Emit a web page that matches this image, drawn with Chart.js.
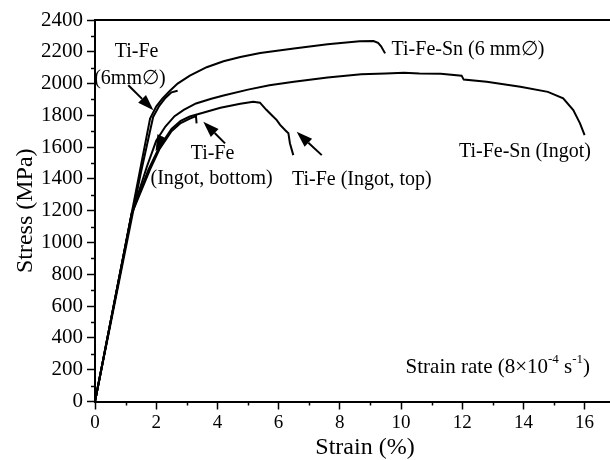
<!DOCTYPE html>
<html>
<head>
<meta charset="utf-8">
<script src="https://cdn.jsdelivr.net/npm/chart.js@4.4.0/dist/chart.umd.min.js"></script>
<style>
  html, body { margin: 0; padding: 0; background: #fff; }
</style>
</head>
<body>
<canvas id="grafico" width="610" height="460"></canvas>
<script>
// tick labels
const xTicks = [0, 2, 4, 6, 8, 10, 12, 14, 16];
const yTicks = [0, 200, 400, 600, 800, 1000, 1200, 1400, 1600, 1800, 2000, 2200, 2400];

// Ti-Fe-Sn (6 mm)
const tiFeSn6Strain = [0, 1.8, 2.0, 2.2, 2.45, 2.7, 3.1, 3.65, 4.2, 4.75, 5.4, 6.5, 7.6, 8.65, 9.1, 9.25, 9.35, 9.48];
const tiFeSn6Stress = [0, 1780, 1855, 1905, 1955, 2000, 2050, 2103, 2140, 2167, 2192, 2221, 2247, 2266, 2268, 2256, 2235, 2190];

// Ti-Fe (6 mm)
const tiFe6Strain = [0, 1.5, 1.9, 2.1, 2.3, 2.5, 2.7];
const tiFe6Stress = [0, 1440, 1790, 1860, 1910, 1945, 1955];

// Ti-Fe-Sn (Ingot)
const tiFeSnIngotStrain = [0, 1.2, 1.45, 1.7, 2.0, 2.3, 2.6, 2.9, 3.3, 3.8, 4.2, 5.0, 5.7, 6.5, 7.6, 8.7, 9.5, 10.1, 10.6, 11.3, 11.98, 12.05, 12.8, 13.9, 14.8, 15.3, 15.63, 15.85, 16.0];
const tiFeSnIngotStress = [0, 1185, 1330, 1480, 1640, 1730, 1795, 1835, 1875, 1905, 1925, 1962, 1990, 2011, 2039, 2058, 2064, 2068, 2063, 2062, 2050, 2025, 2012, 1980, 1948, 1907, 1833, 1750, 1676];

// Ti-Fe (Ingot, top)
const tiFeTopStrain = [0, 1.2, 1.45, 1.75, 2.1, 2.5, 2.8, 3.1, 3.5, 4.1, 4.75, 5.17, 5.39, 5.6, 5.77, 5.94, 6.05, 6.21, 6.32, 6.37, 6.48];
const tiFeTopStress = [0, 1180, 1310, 1460, 1600, 1715, 1765, 1793, 1815, 1848, 1873, 1886, 1880, 1835, 1802, 1770, 1740, 1708, 1688, 1625, 1550];

// Ti-Fe (Ingot, bottom)
const tiFeBottomStrain = [0, 1.2, 1.5, 1.8, 2.1, 2.5, 2.8, 3.1, 3.3, 3.32];
const tiFeBottomStress = [0, 1180, 1320, 1460, 1585, 1700, 1752, 1780, 1795, 1750];

const SERIF = '"Liberation Serif", "Times New Roman", serif';

function pontos(xs, ys) {
  return xs.map((x, i) => ({ x: x, y: ys[i] }));
}

function curva(label, xs, ys) {
  return {
    label: label,
    data: pontos(xs, ys),
    borderColor: "#000",
    borderWidth: 2,
    pointRadius: 0,
    fill: false,
    tension: 0
  };
}

// texts and arrows, in data units
const rotulos = [
  { t: "Ti-Fe", x: 1.36, y: 2200 },
  { t: "(6mm\u2205)", x: 1.14, y: 2033 },
  { t: "Ti-Fe-Sn (6 mm\u2205)", x: 12.19, y: 2211 },
  { t: "Ti-Fe", x: 3.84, y: 1557 },
  { t: "(Ingot, bottom)", x: 3.81, y: 1400 },
  { t: "Ti-Fe (Ingot, top)", x: 8.72, y: 1393 },
  { t: "Ti-Fe-Sn (Ingot)", x: 14.05, y: 1569 }
];

const setas = [
  { x1: 1.09, y1: 1990, x2: 1.91, y2: 1833 },
  { x1: 4.25, y1: 1624, x2: 3.54, y2: 1760 },
  { x1: 7.41, y1: 1550, x2: 6.59, y2: 1697 },
  { x1: 2.2, y1: 1665, x2: 1.98, y2: 1575 }
];

function desenhaSeta(ctx, x1, y1, x2, y2) {
  const ang = Math.atan2(y2 - y1, x2 - x1);
  const len = 16, half = 5.5;
  const bx = x2 - len * Math.cos(ang), by = y2 - len * Math.sin(ang);
  ctx.beginPath();
  ctx.moveTo(x1, y1);
  ctx.lineTo(bx, by);
  ctx.stroke();
  ctx.beginPath();
  ctx.moveTo(x2, y2);
  ctx.lineTo(bx + half * Math.sin(ang), by - half * Math.cos(ang));
  ctx.lineTo(bx - half * Math.sin(ang), by + half * Math.cos(ang));
  ctx.closePath();
  ctx.fill();
}

const extras = {
  id: "extras",
  afterDraw(chart) {
    const ctx = chart.ctx;
    const xs = chart.scales.x, ys = chart.scales.y;
    const area = chart.chartArea;
    ctx.save();
    ctx.strokeStyle = "#000";
    ctx.fillStyle = "#000";

    // top frame line
    ctx.lineWidth = 2;
    ctx.beginPath();
    ctx.moveTo(area.left, area.top);
    ctx.lineTo(area.right, area.top);
    ctx.stroke();

    // minor ticks
    ctx.lineWidth = 1.5;
    for (let v = 1; v < xs.max; v += 2) {
      const px = Math.round(xs.getPixelForValue(v)) + 0.5;
      ctx.beginPath();
      ctx.moveTo(px, area.bottom);
      ctx.lineTo(px, area.bottom + 4);
      ctx.stroke();
    }
    for (let v = 100; v < ys.max; v += 200) {
      const py = Math.round(ys.getPixelForValue(v)) + 0.5;
      ctx.beginPath();
      ctx.moveTo(area.left, py);
      ctx.lineTo(area.left - 4, py);
      ctx.stroke();
    }

    // labels
    ctx.font = "20px " + SERIF;
    ctx.textAlign = "center";
    ctx.textBaseline = "middle";
    rotulos.forEach(r => {
      ctx.fillText(r.t, xs.getPixelForValue(r.x), ys.getPixelForValue(r.y));
    });

    // x axis title (figure was cropped on the right, so it sits right of centre)
    ctx.font = "24px " + SERIF;
    ctx.fillText("Strain (%)", 365, 448);

    // arrows
    ctx.lineWidth = 2;
    setas.forEach(s => {
      desenhaSeta(ctx,
        xs.getPixelForValue(s.x1), ys.getPixelForValue(s.y1),
        xs.getPixelForValue(s.x2), ys.getPixelForValue(s.y2));
    });

    // strain rate note, with superscripts
    const partes = [
      { t: "Strain rate (8\u00d710", sup: false },
      { t: "-4", sup: true },
      { t: " s", sup: false },
      { t: "-1", sup: true },
      { t: ")", sup: false }
    ];
    const big = "21px " + SERIF, small = "13px " + SERIF;
    let largura = 0;
    partes.forEach(p => { ctx.font = p.sup ? small : big; largura += ctx.measureText(p.t).width; });
    let px = xs.getPixelForValue(16.18) - largura;
    const py = ys.getPixelForValue(211);
    ctx.textAlign = "left";
    partes.forEach(p => {
      ctx.font = p.sup ? small : big;
      ctx.fillText(p.t, px, p.sup ? py - 8 : py);
      px += ctx.measureText(p.t).width;
    });
    ctx.restore();
  }
};

new Chart(document.getElementById("grafico").getContext("2d"), {
  type: "line",
  data: {
    datasets: [
      curva("Ti-Fe-Sn (6 mm)", tiFeSn6Strain, tiFeSn6Stress),
      curva("Ti-Fe (6 mm)", tiFe6Strain, tiFe6Stress),
      curva("Ti-Fe-Sn (Ingot)", tiFeSnIngotStrain, tiFeSnIngotStress),
      curva("Ti-Fe (Ingot, top)", tiFeTopStrain, tiFeTopStress),
      curva("Ti-Fe (Ingot, bottom)", tiFeBottomStrain, tiFeBottomStress)
    ]
  },
  options: {
    responsive: false,
    animation: false,
    layout: { padding: { top: 20, right: 0, left: 0, bottom: 0 } },
    plugins: { legend: { display: false }, tooltip: { enabled: false } },
    scales: {
      x: {
        type: "linear",
        min: 0,
        max: 16.83,
        afterBuildTicks: s => { s.ticks = xTicks.map(v => ({ value: v })); },
        afterFit: s => { s.height = 58.5; },
        grid: { drawOnChartArea: false, tickLength: 8, color: "#000", tickWidth: 1.5 },
        border: { color: "#000", width: 2 },
        ticks: { color: "#000", padding: 2, font: { family: SERIF, size: 19 }, maxRotation: 0, callback: v => String(v) },
        title: { display: false }
      },
      y: {
        min: 0,
        max: 2400,
        afterBuildTicks: s => { s.ticks = yTicks.map(v => ({ value: v })); },
        afterFit: s => { s.width = 95; },
        grid: { drawOnChartArea: false, tickLength: 8, color: "#000", tickWidth: 1.5 },
        border: { color: "#000", width: 2 },
        ticks: { color: "#000", padding: 4, font: { family: SERIF, size: 21 }, callback: v => String(v) },
        title: { display: true, text: "Stress (MPa)", color: "#000", font: { family: SERIF, size: 24 }, padding: { top: 11 } }
      }
    }
  },
  plugins: [extras]
});
</script>
</body>
</html>
